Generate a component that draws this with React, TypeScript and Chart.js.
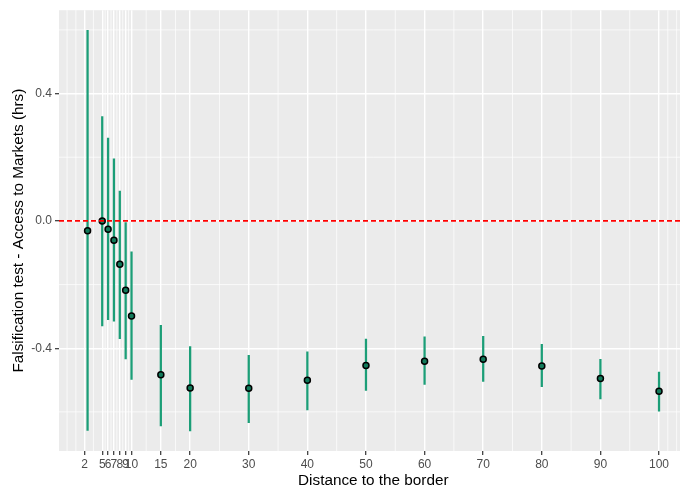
import React, { useEffect, useRef } from "react";
import { Chart, registerables } from "chart.js";

Chart.register(...registerables);

// ---- Data ----
const distances = [2.5, 5, 6, 7, 8, 9, 10, 15, 20, 30, 40, 50, 60, 70, 80, 90, 100];
const estimates = [-0.031, 0.0, -0.026, -0.061, -0.136, -0.218, -0.299, -0.483, -0.525, -0.526, -0.501, -0.454, -0.441, -0.435, -0.456, -0.495, -0.535];
const lower = [-0.658, -0.330, -0.310, -0.315, -0.370, -0.434, -0.498, -0.644, -0.660, -0.634, -0.594, -0.533, -0.514, -0.504, -0.521, -0.559, -0.598];
const upper = [0.599, 0.328, 0.260, 0.195, 0.094, -0.005, -0.097, -0.328, -0.395, -0.422, -0.411, -0.371, -0.364, -0.3625, -0.3875, -0.435, -0.475];
const xBreaks = [2, 5, 6, 7, 8, 9, 10, 15, 20, 30, 40, 50, 60, 70, 80, 90, 100];
const yBreaks = [-0.4, 0.0, 0.4];
const yLabels = ["-0.4", "0.0", "0.4"];
const xTitle = "Distance to the border";
const yTitle = "Falsification test - Access to Markets (hrs)";

const GREEN = "#1B9E77";
const FONT = "'Liberation Sans', Arial, sans-serif";

// ggplot-style 5% expansion
function expand(vals: number[]) {
  const mn = Math.min(...vals);
  const mx = Math.max(...vals);
  const d = (mx - mn) * 0.05;
  return [mn - d, mx + d];
}
const [xMin, xMax] = expand(distances);
const [yMin, yMax] = expand([...lower, ...upper, ...estimates]);

// ggplot regular minor breaks
function minorBreaks(b: number[], lo: number, hi: number) {
  let bb = b.slice();
  const bd = bb[1] - bb[0];
  if (lo < bb[0]) bb = [bb[0] - bd, ...bb];
  if (hi > bb[bb.length - 1]) bb = [...bb, bb[bb.length - 1] + bd];
  const out: number[] = [];
  for (let i = 0; i < bb.length - 1; i++) {
    out.push(bb[i], (bb[i] + bb[i + 1]) / 2);
  }
  out.push(bb[bb.length - 1]);
  return out.filter(
    (v) => v >= lo && v <= hi && !b.some((m) => Math.abs(m - v) < 1e-9)
  );
}
const xMinor = minorBreaks(xBreaks, xMin, xMax);
const yMinor = minorBreaks(yBreaks, yMin, yMax);

const panelPlugin = {
  id: "panel",
  beforeDraw(chart: any) {
    const { ctx, chartArea } = chart;
    const { left, right, top, bottom } = chartArea;
    const xs = chart.scales.x;
    const ys = chart.scales.y;
    ctx.save();
    ctx.fillStyle = "#EBEBEB";
    ctx.fillRect(left, top, right - left, bottom - top);
    ctx.strokeStyle = "#FFFFFF";
    ctx.lineWidth = 0.7;
    xMinor.forEach((v) => {
      const px = xs.getPixelForValue(v);
      ctx.beginPath();
      ctx.moveTo(px, top);
      ctx.lineTo(px, bottom);
      ctx.stroke();
    });
    yMinor.forEach((v) => {
      const py = ys.getPixelForValue(v);
      ctx.beginPath();
      ctx.moveTo(left, py);
      ctx.lineTo(right, py);
      ctx.stroke();
    });
    ctx.restore();
  },
};

export default function App() {
  const ref = useRef<HTMLCanvasElement | null>(null);

  useEffect(() => {
    if (!ref.current) return;
    const chart = new Chart(ref.current, {
      type: "scatter",
      data: {
        datasets: [
          {
            type: "line",
            data: [
              { x: xMin, y: 0 },
              { x: xMax, y: 0 },
            ],
            borderColor: "#FF0000",
            borderWidth: 1.6,
            borderDash: [5, 3],
            pointRadius: 0,
            order: 0,
          } as any,
          {
            type: "scatter",
            data: distances.map((x, i) => ({ x, y: estimates[i] })),
            pointRadius: 3,
            pointBorderWidth: 1.5,
            pointBorderColor: "#000000",
            pointBackgroundColor: "#127A5B",
            order: 1,
          } as any,
          {
            type: "bar",
            data: distances.map((x, i) => ({ x, y: [lower[i], upper[i]] })),
            backgroundColor: GREEN,
            borderWidth: 0,
            barThickness: 1.6,
            grouped: false,
            order: 2,
          } as any,
        ],
      },
      options: {
        responsive: false,
        animation: false,
        devicePixelRatio: 1,
        layout: { padding: { left: 0, top: 8, right: 12.4, bottom: 0 } },
        plugins: {
          legend: { display: false },
          tooltip: { enabled: false },
        },
        scales: {
          x: {
            type: "linear",
            min: xMin,
            max: xMax,
            offset: false,
            border: { display: false },
            grid: {
              offset: false,
              color: "#FFFFFF",
              lineWidth: 1.4,
              drawTicks: true,
              tickLength: 4,
              tickWidth: 1.2,
              tickColor: "#333333",
            },
            afterBuildTicks: (scale: any) => {
              scale.ticks = xBreaks.map((v) => ({ value: v }));
            },
            afterFit: (scale: any) => {
              scale.height = 40;
            },
            ticks: {
              autoSkip: false,
              maxRotation: 0,
              minRotation: 0,
              padding: 2,
              color: "#4D4D4D",
              font: { family: FONT, size: 12 },
              callback: (v: any) => String(v),
            },
            title: {
              display: true,
              text: xTitle,
              color: "#000000",
              font: { family: FONT, size: 15.3 },
              padding: { top: 0, bottom: 1 },
            },
          },
          y: {
            type: "linear",
            min: yMin,
            max: yMax,
            border: { display: false },
            grid: {
              color: "#FFFFFF",
              lineWidth: 1.4,
              drawTicks: true,
              tickLength: 4,
              tickWidth: 1.2,
              tickColor: "#333333",
            },
            afterBuildTicks: (scale: any) => {
              scale.ticks = yBreaks.map((v) => ({ value: v }));
            },
            afterFit: (scale: any) => {
              scale.width = 59;
            },
            ticks: {
              padding: 3,
              color: "#4D4D4D",
              font: { family: FONT, size: 12 },
              callback: (v: any) => {
                const i = yBreaks.findIndex((b) => Math.abs(b - v) < 1e-9);
                return i >= 0 ? yLabels[i] : "";
              },
            },
            title: {
              display: true,
              text: yTitle,
              color: "#000000",
              font: { family: FONT, size: 15.3 },
              padding: { top: 10, bottom: 0 },
            },
          },
        },
      },
      plugins: [panelPlugin],
    });
    return () => chart.destroy();
  }, []);

  return (
    <div
      style={{
        position: "fixed",
        left: 0,
        top: 0,
        width: 680,
        height: 491,
        overflow: "hidden",
        background: "#FFFFFF",
      }}
    >
      <canvas ref={ref} width={700} height={491} style={{ display: "block", width: 700, height: 491 }} />
    </div>
  );
}
